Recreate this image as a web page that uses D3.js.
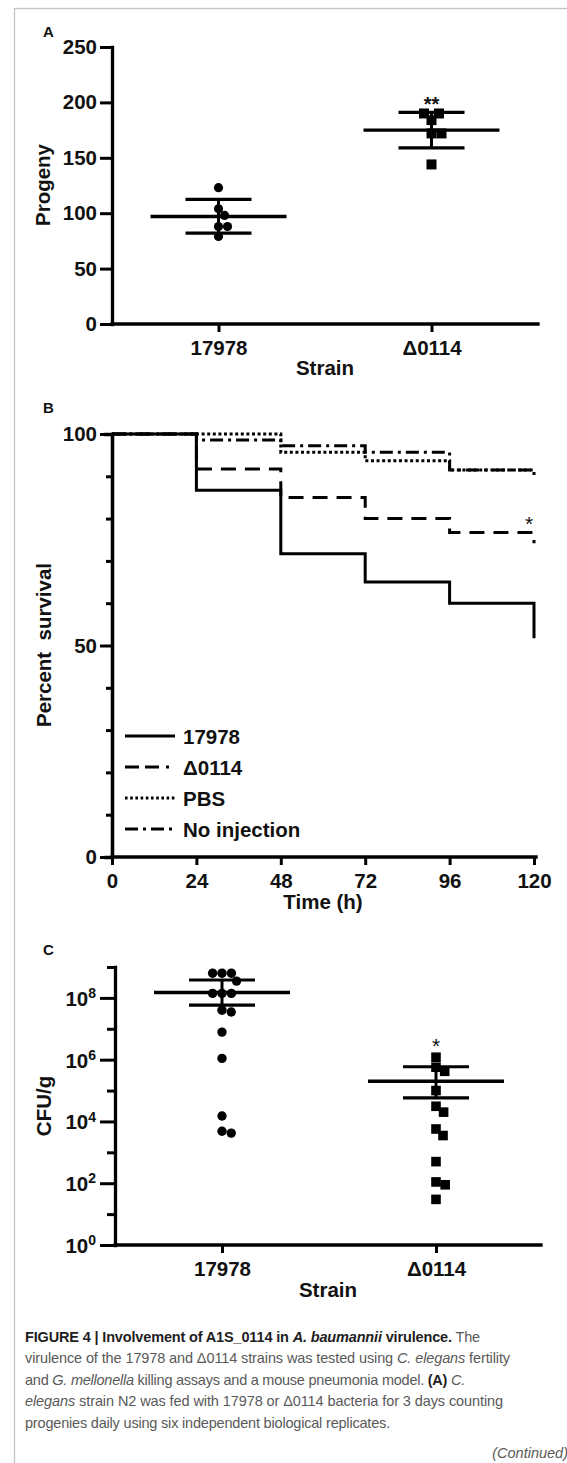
<!DOCTYPE html>
<html><head><meta charset="utf-8">
<script src="https://cdn.jsdelivr.net/npm/d3@7"></script>
<style>
body{margin:0;background:#fff;}
svg text{font-family:"Liberation Sans",Arial,Helvetica,sans-serif;}
</style></head><body>
<svg id="fig" width="567" height="1463"></svg>
<script>
// ---------- Panel A data ----------
const strainsA = ["17978", "Δ0114"];
const progeny17978 = [123, 104, 98, 88, 88, 79];
const progenyD0114 = [184, 190, 190, 172, 172, 144];
const progenyMean = [97, 175];
const progenyUpper = [112.5, 191];
const progenyLower = [82, 159];
const progenyTicks = [0, 50, 100, 150, 200, 250];

// ---------- Panel B data ----------
const survTimes = [0, 24, 48, 72, 96, 120];
const survNames = ["17978", "Δ0114", "PBS", "No injection"];
const surv17978 = [100, 86.7, 71.7, 65, 60, 51.7];
const survD0114 = [100, 91.7, 85, 80, 76.7, 74.2];
const survPBS = [100, 100, 95.7, 93.7, 91.5, 91.5];
const survNoInj = [100, 98.6, 97.2, 95.7, 91.5, 90.3];
const timeTicks = [0, 24, 48, 72, 96, 120];
const survMajorTicks = [0, 50, 100];
const survMinorTicks = [10, 20, 30, 40, 60, 70, 80, 90];

// ---------- Panel C data ----------
const strainsC = ["17978", "Δ0114"];
const cfu17978 = [6.3e8, 6.3e8, 6.3e8, 3.5e8, 1.4e8, 1.4e8, 1.4e8, 4e7, 3.5e7, 7.8e6, 1.1e6, 1.5e4, 4.8e3, 4.2e3];
const cfuD0114 = [1.2e6, 5.7e5, 4.2e5, 1e5, 3.1e4, 2e4, 5.7e3, 3.5e3, 5e2, 110, 89, 30];
const cfuCenter = [1.5e8, 2e5];
const cfuUpper = [3.8e8, 5.9e5];
const cfuLower = [5.8e7, 5.8e4];
const cfuTickExp = [0, 1, 2, 3, 4, 5, 6, 7, 8, 9];

const svg = d3.select("#fig");
const FS = 20.5;

// frame
svg.append("rect").attr("x", 14.5).attr("y", 8.5).attr("width", 600).attr("height", 1500)
  .attr("fill", "none").attr("stroke", "#c4c4c4").attr("stroke-width", 1.3);

function styleAxis(g, w) {
  g.select(".domain").attr("stroke", "#000").attr("stroke-width", w).attr("stroke-linecap", "square");
  g.selectAll(".tick line").attr("stroke", "#000").attr("stroke-width", 3);
  g.selectAll(".tick text").attr("fill", "#111").attr("font-size", FS).attr("font-weight", "bold")
    .attr("font-family", "'Liberation Sans',Arial,sans-serif");
}

function dodge(ys, r) {
  const placed = [], out = [];
  ys.forEach(y => {
    const cands = [0];
    placed.forEach(p => {
      const dy = Math.abs(p.y - y);
      if (dy < 2 * r) { const dx = Math.sqrt(4 * r * r - dy * dy); cands.push(p.x + dx, p.x - dx); }
    });
    const sorted = cands.map((c, i) => [c, i]).sort((a, b) => Math.abs(a[0]) - Math.abs(b[0]) || a[1] - b[1]).map(d => d[0]);
    let best = 0;
    for (const c of sorted) {
      if (placed.every(p => Math.hypot(p.x - c, p.y - y) >= 2 * r - 0.01)) { best = c; break; }
    }
    placed.push({ x: best, y }); out.push(best);
  });
  return out;
}

function panelLabel(t, x, y) {
  svg.append("text").attr("x", x).attr("y", y).attr("font-size", 15).attr("font-weight", "bold").attr("fill", "#111").text(t);
}
function yLabel(t, x, y) {
  svg.append("text").attr("transform", `translate(${x},${y}) rotate(-90)`).attr("text-anchor", "middle")
    .attr("font-size", FS).attr("font-weight", "bold").attr("fill", "#111").style("white-space", "pre").text(t);
}
function errBars(g, x, cats, centers, ups, lows, y, half, cap) {
  centers.forEach((c, i) => {
    const cx = x(cats[i]);
    g.append("line").attr("x1", cx).attr("x2", cx).attr("y1", y(ups[i])).attr("y2", y(lows[i])).attr("stroke", "#000").attr("stroke-width", 3);
    [ups[i], lows[i]].forEach(v => g.append("line").attr("x1", cx - cap).attr("x2", cx + cap).attr("y1", y(v)).attr("y2", y(v)).attr("stroke", "#000").attr("stroke-width", 3.2));
    g.append("line").attr("x1", cx - half).attr("x2", cx + half).attr("y1", y(c)).attr("y2", y(c)).attr("stroke", "#000").attr("stroke-width", 3.4);
  });
}

// ================= Panel A =================
{
  const xA = d3.scalePoint().domain(strainsA).range([112, 538]).padding(0.5);
  const yA = d3.scaleLinear().domain([0, 250]).range([324, 47]);
  const g = svg.append("g");
  const ya = g.append("g").attr("transform", "translate(112,0)")
    .call(d3.axisLeft(yA).tickValues(progenyTicks).tickSize(12).tickPadding(3).tickSizeOuter(0));
  styleAxis(ya, 3.3);
  const xa = g.append("g").attr("transform", "translate(0,324)")
    .call(d3.axisBottom(xA).tickSize(8).tickPadding(8).tickSizeOuter(0));
  styleAxis(xa, 3.3);
  xa.select(".domain").attr("d", "M112,0H538");
  panelLabel("A", 43, 37);
  yLabel("Progeny", 50, 185);
  svg.append("text").attr("x", 325).attr("y", 375).attr("text-anchor", "middle").attr("font-size", FS).attr("font-weight", "bold").attr("fill", "#111").text("Strain");

  const offs1 = dodge(progeny17978.map(yA), 4.5);
  g.selectAll(".dA1").data(progeny17978).join("circle").attr("cx", (d, i) => xA(strainsA[0]) + offs1[i]).attr("cy", d => yA(d)).attr("r", 4.6).attr("fill", "#000");
  const offs2 = dodge(progenyD0114.map(yA), 5);
  g.selectAll(".dA2").data(progenyD0114).join("rect").attr("x", (d, i) => xA(strainsA[1]) + offs2[i] - 5).attr("y", d => yA(d) - 5).attr("width", 10).attr("height", 10).attr("fill", "#000");
  errBars(g, xA, strainsA, progenyMean, progenyUpper, progenyLower, yA, 68, 33);
  g.append("text").attr("x", xA(strainsA[1])).attr("y", 111).attr("text-anchor", "middle").attr("font-size", 20).attr("font-weight", "bold").attr("fill", "#111").text("**");
}

// ================= Panel B =================
{
  const xB = d3.scaleLinear().domain([0, 120]).range([112, 534]);
  const yB = d3.scaleLinear().domain([0, 100]).range([857, 434]);
  const g = svg.append("g");
  const yMin = g.append("g").attr("transform", "translate(112,0)")
    .call(d3.axisLeft(yB).tickValues(survMinorTicks).tickSize(6).tickFormat(""));
  styleAxis(yMin, 3.3);
  const yMaj = g.append("g").attr("transform", "translate(112,0)")
    .call(d3.axisLeft(yB).tickValues(survMajorTicks).tickSize(12).tickPadding(3).tickSizeOuter(0));
  styleAxis(yMaj, 3.3);
  const xb = g.append("g").attr("transform", "translate(0,857)")
    .call(d3.axisBottom(xB).tickValues(timeTicks).tickSize(8).tickPadding(8).tickSizeOuter(0));
  styleAxis(xb, 3.3);
  xb.select(".domain").attr("d", "M112,0H536");
  panelLabel("B", 43, 413);
  yLabel("Percent  survival", 51, 645);
  svg.append("text").attr("x", 323).attr("y", 909).attr("text-anchor", "middle").attr("font-size", FS).attr("font-weight", "bold").attr("fill", "#111").text("Time (h)");

  // drawn so that the solid line sits on top
  const styles = [
    { data: survPBS, dash: "3,2.6" },
    { data: survNoInj, dash: "13,5,3,5" },
    { data: survD0114, dash: "15,9" },
    { data: surv17978, dash: null }
  ];
  const line = d3.line().x(d => xB(d[0])).y(d => yB(d[1])).curve(d3.curveStepAfter);
  styles.forEach(s => {
    g.append("path").attr("d", line(survTimes.map((t, i) => [t, s.data[i]])))
      .attr("fill", "none").attr("stroke", "#000").attr("stroke-width", 3)
      .attr("stroke-dasharray", s.dash).attr("stroke-linejoin", "miter");
  });
  g.append("text").attr("x", 529).attr("y", 531).attr("text-anchor", "middle").attr("font-size", 21).attr("fill", "#111").text("*");

  const legStyles = [null, "14,6,14,7,3,6", "2.6,2.6", "13,5,3,5"];
  const legY = [736, 767, 798, 829];
  survNames.forEach((n, i) => {
    g.append("line").attr("x1", 125).attr("x2", 175).attr("y1", legY[i]).attr("y2", legY[i])
      .attr("stroke", "#000").attr("stroke-width", 3).attr("stroke-dasharray", legStyles[i]);
    g.append("text").attr("x", 183).attr("y", legY[i] + 7.5).attr("font-size", FS).attr("font-weight", "bold").attr("fill", "#111").text(n);
  });
}

// ================= Panel C =================
{
  const xC = d3.scalePoint().domain(strainsC).range([115, 543]).padding(0.5);
  const yC = d3.scaleLog().domain([1, 1e9]).range([1245, 967]);
  const g = svg.append("g");
  const ya = g.append("g").attr("transform", "translate(115,0)")
    .call(d3.axisLeft(yC).tickValues(cfuTickExp.map(e => Math.pow(10, e))).tickSize(8).tickPadding(4).tickSizeOuter(0));
  styleAxis(ya, 3.3);
  ya.selectAll(".tick").each(function (d) {
    const e = Math.round(Math.log10(d));
    const t = d3.select(this);
    if (e % 2 === 0) {
      t.select("line").attr("x2", -15);
      const tx = t.select("text").attr("x", -19).text(null).attr("dy", "0.36em");
      tx.append("tspan").text("10");
      tx.append("tspan").attr("dy", "-0.55em").attr("font-size", 14).text(e);
    } else {
      t.select("text").remove();
    }
  });
  const xa = g.append("g").attr("transform", "translate(0,1245)")
    .call(d3.axisBottom(xC).tickSize(8).tickPadding(8).tickSizeOuter(0));
  styleAxis(xa, 3.3);
  xa.select(".domain").attr("d", "M115,0H541");
  panelLabel("C", 43, 955);
  yLabel("CFU/g", 51, 1106);
  svg.append("text").attr("x", 328).attr("y", 1297).attr("text-anchor", "middle").attr("font-size", FS).attr("font-weight", "bold").attr("fill", "#111").text("Strain");

  const o1 = dodge(cfu17978.map(yC), 4.7);
  g.selectAll(".c1").data(cfu17978).join("circle").attr("cx", (d, i) => xC(strainsC[0]) + o1[i]).attr("cy", d => yC(d)).attr("r", 4.7).attr("fill", "#000");
  const o2 = dodge(cfuD0114.map(yC), 4.8);
  g.selectAll(".c2").data(cfuD0114).join("rect").attr("x", (d, i) => xC(strainsC[1]) + o2[i] - 4.8).attr("y", d => yC(d) - 4.8).attr("width", 9.6).attr("height", 9.6).attr("fill", "#000");
  errBars(g, xC, strainsC, cfuCenter, cfuUpper, cfuLower, yC, 68, 33);
  g.append("text").attr("x", xC(strainsC[1])).attr("y", 1053).attr("text-anchor", "middle").attr("font-size", 21).attr("fill", "#111").text("*");
}

// ================= Caption =================
{
  const N = "n", B = "b", I = "i", BI = "bi";
  const lines = [
    { y: 1342, w: 455, segs: [["FIGURE 4 | Involvement of A1S_0114 in ", B], ["A. baumannii", BI], [" virulence.", B], [" The", N]] },
    { y: 1363, w: 485, segs: [["virulence of the 17978 and Δ0114 strains was tested using ", N], ["C. elegans", I], [" fertility", N]] },
    { y: 1384.5, w: 440, segs: [["and ", N], ["G. mellonella", I], [" killing assays and a mouse pneumonia model. ", N], ["(A)", B], [" C.", I]] },
    { y: 1406, w: 478, segs: [["elegans", I], [" strain N2 was fed with 17978 or Δ0114 bacteria for 3 days counting", N]] },
    { y: 1427.5, w: 365, segs: [["progenies daily using six independent biological replicates.", N]] }
  ];
  lines.forEach(L => {
    const t = svg.append("text").attr("x", 25).attr("y", L.y).attr("font-size", 14.5).style("white-space", "pre");
    let nChars = 0;
    L.segs.forEach(([s, k]) => {
      nChars += s.length;
      t.append("tspan").text(s)
        .attr("font-weight", k === B || k === BI ? "bold" : "normal")
        .attr("font-style", k === I || k === BI ? "italic" : "normal")
        .attr("fill", k === B || k === BI ? "#1e1e1e" : "#595959");
    });
    const natural = t.node().getComputedTextLength();
    const ls = (L.w - natural) / nChars;
    t.attr("letter-spacing", ls.toFixed(3));
  });
  svg.append("text").attr("x", 568).attr("y", 1457.5).attr("text-anchor", "end").attr("font-size", 14.5)
    .attr("font-style", "italic").attr("fill", "#595959").text("(Continued)");
}
</script>
</body></html>
